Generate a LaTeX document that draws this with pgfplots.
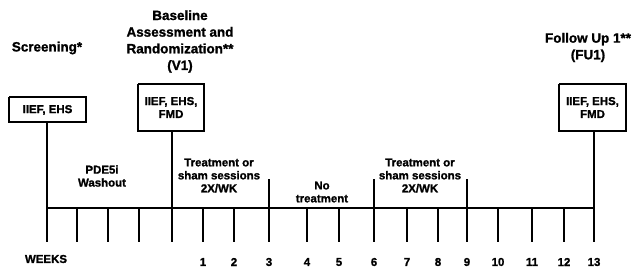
\documentclass[border=0pt]{standalone}
\usepackage{pgfplots}
\pgfplotsset{compat=1.18}
\usepackage{fontspec}
\setmainfont{Liberation Sans}[BoldFeatures={FakeBold=1.3}]
\tikzset{
  lbl/.style={font=\bfseries\fontsize{11.5}{13}\selectfont, align=center, inner sep=0pt, text=black},
  hd/.style={font=\bfseries\fontsize{13.5}{16.7}\selectfont, align=center, inner sep=0pt, text=black},
}
\begin{document}
\begin{tikzpicture}
\begin{axis}[
  width=635bp, height=271bp, scale only axis,
  xmin=0, xmax=635, ymin=0, ymax=271, y dir=reverse,
  hide axis, clip=false,
]
% invisible frame to fix the bounding box
\addplot[draw=none] coordinates {(0,0) (635,271)};
% main horizontal timeline
\addplot[black, line width=2.4bp] coordinates {(47,208) (594,208)};
% tall lines from the boxes
\addplot[black, line width=2.4bp] coordinates {(47,122) (47,242)};
\addplot[black, line width=2.4bp] coordinates {(172,131) (172,242)};
\addplot[black, line width=2.4bp] coordinates {(594,131) (594,242)};
% medium ticks (weeks 3, 6, 9)
\addplot[black, line width=2.4bp] coordinates {(269,179) (269,242)};
\addplot[black, line width=2.4bp] coordinates {(374,179) (374,242)};
\addplot[black, line width=2.4bp] coordinates {(467,179) (467,242)};
% short ticks
\addplot[black, line width=2.4bp] coordinates {(77,208) (77,242)};
\addplot[black, line width=2.4bp] coordinates {(108,208) (108,242)};
\addplot[black, line width=2.4bp] coordinates {(139,208) (139,242)};
\addplot[black, line width=2.4bp] coordinates {(203,208) (203,242)};
\addplot[black, line width=2.4bp] coordinates {(234,208) (234,242)};
\addplot[black, line width=2.4bp] coordinates {(307,208) (307,242)};
\addplot[black, line width=2.4bp] coordinates {(339,208) (339,242)};
\addplot[black, line width=2.4bp] coordinates {(407,208) (407,242)};
\addplot[black, line width=2.4bp] coordinates {(438,208) (438,242)};
\addplot[black, line width=2.4bp] coordinates {(498,208) (498,242)};
\addplot[black, line width=2.4bp] coordinates {(532,208) (532,242)};
\addplot[black, line width=2.4bp] coordinates {(564,208) (564,242)};
% boxes
\addplot[black, line width=1.6bp] coordinates {(9,97) (86,97) (86,122) (9,122) (9,97)};
\addplot[black, line width=1.6bp] coordinates {(138,84) (204,84) (204,131) (138,131) (138,84)};
\addplot[black, line width=1.6bp] coordinates {(559,84) (626,84) (626,131) (559,131) (559,84)};
% box texts
\node[lbl] at (axis cs:47.5,110) {IIEF, EHS};
\node[lbl] at (axis cs:171,107.5) {IIEF, EHS,\\FMD};
\node[lbl] at (axis cs:592.5,107.5) {IIEF, EHS,\\FMD};
% headings
\node[hd] at (axis cs:47,48) {Screening*};
\node[hd] at (axis cs:180,41.5) {Baseline\\Assessment and\\Randomization**\\(V1)};
\node[hd] at (axis cs:588,47.5) {Follow Up 1**\\(FU1)};
% period labels
\node[lbl] at (axis cs:102,176) {PDE5i\\Washout};
\node[lbl] at (axis cs:219,175.5) {Treatment or\\sham sessions\\2X/WK};
\node[lbl] at (axis cs:322,192) {No\\treatment};
\node[lbl] at (axis cs:420,175.5) {Treatment or\\sham sessions\\2X/WK};
% week labels
\node[lbl] at (axis cs:46,259) {WEEKS};
\node[lbl] at (axis cs:203,262) {1};
\node[lbl] at (axis cs:234,262) {2};
\node[lbl] at (axis cs:269,262) {3};
\node[lbl] at (axis cs:307,262) {4};
\node[lbl] at (axis cs:339,262) {5};
\node[lbl] at (axis cs:374,262) {6};
\node[lbl] at (axis cs:407,262) {7};
\node[lbl] at (axis cs:438,262) {8};
\node[lbl] at (axis cs:467,262) {9};
\node[lbl] at (axis cs:498,262) {10};
\node[lbl] at (axis cs:532,262) {11};
\node[lbl] at (axis cs:564,262) {12};
\node[lbl] at (axis cs:594,262) {13};
\end{axis}
\end{tikzpicture}
\end{document}
